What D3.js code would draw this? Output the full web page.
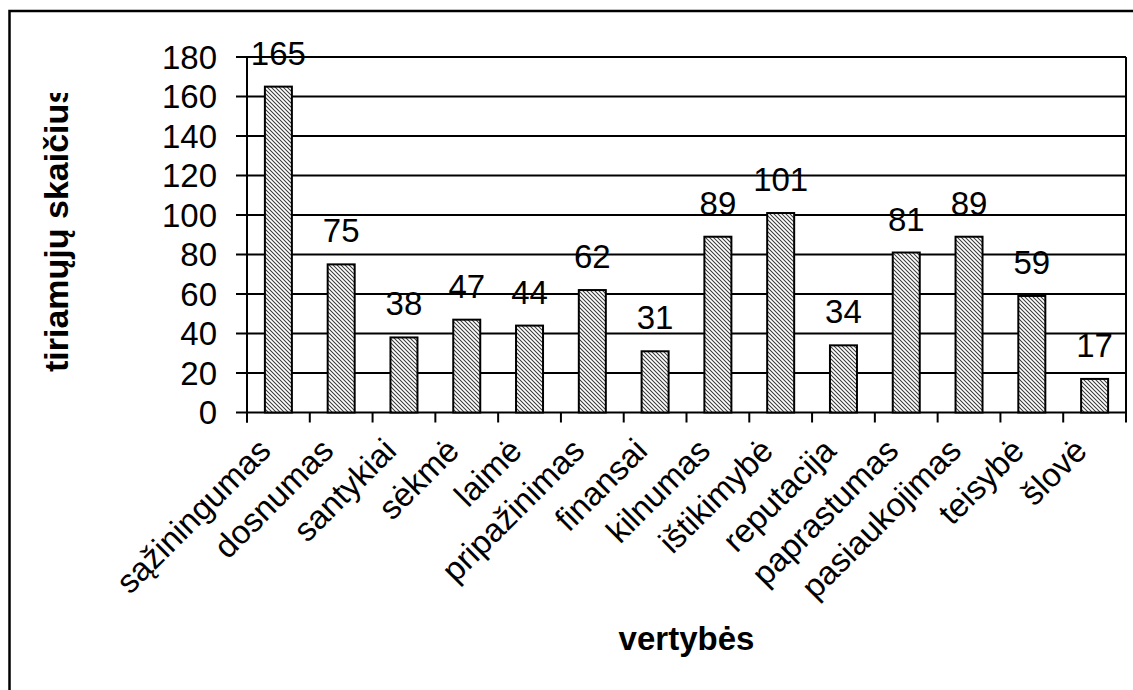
<!DOCTYPE html>
<html>
<head>
<meta charset="utf-8">
<script src="https://cdn.jsdelivr.net/npm/d3@7"></script>
<style>
  html, body { margin: 0; padding: 0; background: #fff; }
  svg { display: block; }
  text { font-family: "Liberation Sans", Arial, sans-serif; fill: #000; }
</style>
</head>
<body>
<svg id="chart" width="1133" height="690"></svg>
<script>
const categories = ["sąžiningumas", "dosnumas", "santykiai", "sėkmė", "laimė", "pripažinimas", "finansai", "kilnumas", "ištikimybė", "reputacija", "paprastumas", "pasiaukojimas", "teisybė", "šlovė"];
const values = [165, 75, 38, 47, 44, 62, 31, 89, 101, 34, 81, 89, 59, 17];
const yTicks = [0, 20, 40, 60, 80, 100, 120, 140, 160, 180];
const xTitle = "vertybės";
const yTitle = "tiriamųjų skaičius";

const svg = d3.select("#chart");
const plot = { left: 247, right: 1126, top: 57, bottom: 412.5 };

// outer chart border (extends past right/bottom edges)
svg.append("rect")
  .attr("x", 9.5).attr("y", 11).attr("width", 1140).attr("height", 700)
  .attr("fill", "none").attr("stroke", "#000").attr("stroke-width", 2.5);

const defs = svg.append("defs");
const pat = defs.append("pattern")
  .attr("id", "hatch").attr("patternUnits", "userSpaceOnUse")
  .attr("width", 4).attr("height", 4);
pat.append("rect").attr("width", 4).attr("height", 4).attr("fill", "#fff");
pat.append("path")
  .attr("d", "M-1,-1 L5,5 M-1,3 L1,5 M3,-1 L5,1")
  .attr("stroke", "#3a3a3a").attr("stroke-width", 1.05);

defs.append("clipPath").attr("id", "ytclip")
  .append("rect").attr("x", 0).attr("y", 93).attr("width", 200).attr("height", 600);

const x = d3.scaleBand().domain(categories)
  .range([plot.left, plot.right]).paddingInner(0.57).paddingOuter(0.285);
const y = d3.scaleLinear().domain([0, 180]).range([plot.bottom, plot.top]);

// gridlines with left tick extensions
svg.append("g").selectAll("line").data(yTicks).join("line")
  .attr("x1", plot.left - 11).attr("x2", plot.right)
  .attr("y1", d => y(d)).attr("y2", d => y(d))
  .attr("stroke", "#000").attr("stroke-width", 2);

// plot border right
svg.append("line")
  .attr("x1", plot.right).attr("x2", plot.right)
  .attr("y1", plot.top).attr("y2", plot.bottom + 10)
  .attr("stroke", "#000").attr("stroke-width", 2);

// y axis line
svg.append("line")
  .attr("x1", plot.left).attr("x2", plot.left)
  .attr("y1", plot.top).attr("y2", plot.bottom + 10)
  .attr("stroke", "#000").attr("stroke-width", 2);

// x ticks at band boundaries
const step = x.step();
const boundaries = categories.map(c => x(c) - step * x.paddingInner() / 2);
svg.append("g").selectAll("line").data(boundaries).join("line")
  .attr("x1", d => d).attr("x2", d => d)
  .attr("y1", plot.bottom).attr("y2", plot.bottom + 10)
  .attr("stroke", "#000").attr("stroke-width", 2);

// y tick labels
svg.append("g").selectAll("text").data(yTicks).join("text")
  .attr("x", plot.left - 30).attr("y", d => y(d)).attr("dy", "0.36em")
  .attr("text-anchor", "end").attr("font-size", 33)
  .text(d => d);

// bars
svg.append("g").selectAll("rect").data(values).join("rect")
  .attr("x", (d, i) => x(categories[i]))
  .attr("y", d => y(d))
  .attr("width", x.bandwidth())
  .attr("height", d => y(0) - y(d))
  .attr("fill", "url(#hatch)").attr("stroke", "#000").attr("stroke-width", 2);

// data labels
svg.append("g").selectAll("text").data(values).join("text")
  .attr("x", (d, i) => x(categories[i]) + x.bandwidth() / 2)
  .attr("y", d => y(d) - 22)
  .attr("text-anchor", "middle").attr("font-size", 33)
  .text(d => d);

// category labels rotated
svg.append("g").selectAll("text").data(categories).join("text")
  .attr("transform", c => `translate(${x(c) + x.bandwidth() / 2 - 14},${plot.bottom + 32}) rotate(-45)`)
  .attr("text-anchor", "end").attr("dy", "0.35em").attr("font-size", 33)
  .text(c => c);

// x title
svg.append("text")
  .attr("x", (plot.left + plot.right) / 2).attr("y", 650)
  .attr("text-anchor", "middle").attr("font-size", 33).attr("font-weight", "bold")
  .text(xTitle);

// y title (clipped at top as in the original)
svg.append("g").attr("clip-path", "url(#ytclip)")
  .append("text")
  .attr("transform", `translate(68,372) rotate(-90)`)
  .attr("text-anchor", "start").attr("font-size", 34).attr("font-weight", "bold")
  .text(yTitle);
</script>
</body>
</html>
